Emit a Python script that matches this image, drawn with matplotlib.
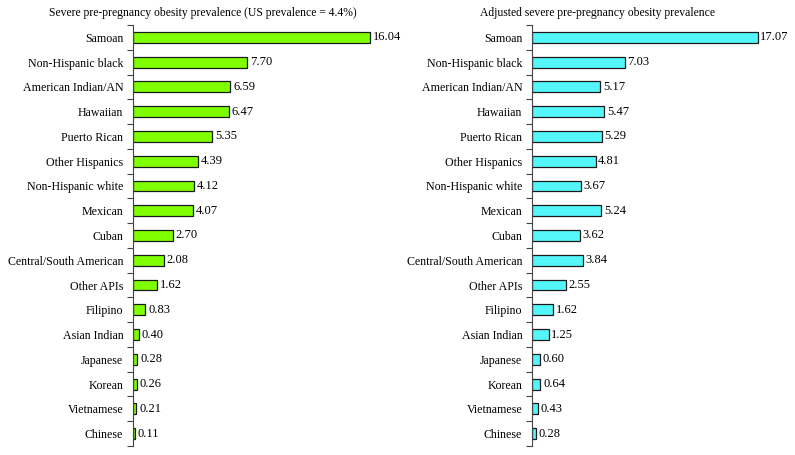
import matplotlib
matplotlib.use("Agg")
import matplotlib.pyplot as plt
import numpy as np

# categories (top to bottom)
groups = ["Samoan", "Non-Hispanic black", "American Indian/AN", "Hawaiian",
          "Puerto Rican", "Other Hispanics", "Non-Hispanic white", "Mexican",
          "Cuban", "Central/South American", "Other APIs", "Filipino",
          "Asian Indian", "Japanese", "Korean", "Vietnamese", "Chinese"]
crude = [16.04, 7.70, 6.59, 6.47, 5.35, 4.39, 4.12, 4.07, 2.70, 2.08,
         1.62, 0.83, 0.40, 0.28, 0.26, 0.21, 0.11]
adjusted = [17.07, 7.03, 5.17, 5.47, 5.29, 4.81, 3.67, 5.24, 3.62, 3.84,
            2.55, 1.62, 1.25, 0.60, 0.64, 0.43, 0.28]

plt.rcParams["font.family"] = "Liberation Serif"
plt.rcParams["font.size"] = 9

fig = plt.figure(figsize=(7.95, 4.55), dpi=100)
W, H = 795, 455
ax1 = fig.add_axes([133 / W, 1 - 446 / H, 266 / W, 421 / H])
ax2 = fig.add_axes([532 / W, 1 - 446 / H, 238 / W, 421 / H])

panels = [
    (ax1, crude, "#7fff00", "Severe pre-pregnancy obesity prevalence (US prevalence = 4.4%)", 203),
    (ax2, adjusted, "#55f6fa", "Adjusted severe pre-pregnancy obesity prevalence", 597),
]

y = np.arange(len(groups))
for ax, vals, col, title, tx in panels:
    ax.barh(y, vals, height=0.44, color=col, edgecolor="#1a1a1a", linewidth=0.9)
    for yi, v in zip(y, vals):
        ax.text(v + 0.2, yi, f"{v:.2f}", va="center", ha="left", fontsize=9)
    ax.set_xlim(0, 18)
    ax.set_ylim(len(groups) - 0.5, -0.5)
    ax.set_yticks(y)
    ax.set_yticklabels(groups, fontsize=8.6)
    ax.set_yticks(np.arange(-0.5, len(groups), 1), minor=True)
    ax.tick_params(axis="y", which="major", length=0, pad=7)
    ax.tick_params(axis="y", which="minor", length=4, width=0.8, direction="out", color="#444444")
    ax.set_xticks([])
    for s in ["top", "right", "bottom"]:
        ax.spines[s].set_visible(False)
    ax.spines["left"].set_color("#444444")
    ax.spines["left"].set_linewidth(0.8)
    fig.text(tx / W, 1 - 13 / H, title, ha="center", va="center", fontsize=8.4)

fig.savefig("out.png", dpi=100)
